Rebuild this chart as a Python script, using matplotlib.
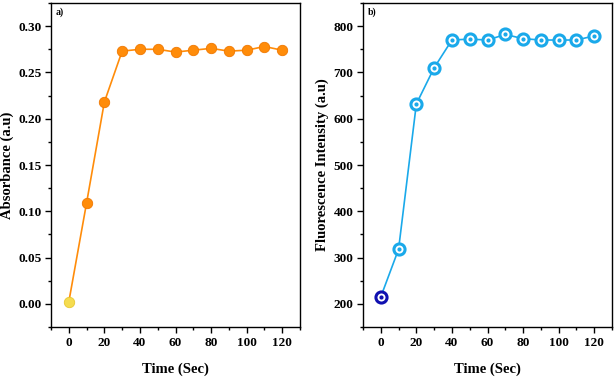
import matplotlib
matplotlib.use("Agg")
import matplotlib.pyplot as plt
from matplotlib.ticker import MultipleLocator

# -----------------------
# Data
# -----------------------
time_sec = [0, 10, 20, 30, 40, 50, 60, 70, 80, 90, 100, 110, 120]
absorbance = [0.002, 0.109, 0.218, 0.273, 0.275, 0.275, 0.272, 0.274,
              0.276, 0.273, 0.274, 0.278, 0.274]
fluorescence = [215, 318, 632, 710, 770, 772, 770, 782, 773, 770, 770, 770, 779]

plt.rcParams['font.family'] = ['Liberation Serif', 'DejaVu Serif']
plt.rcParams['font.weight'] = 'bold'
plt.rcParams['axes.labelweight'] = 'bold'

ORANGE = '#ff8c0a'
BLUE = '#1aa9ea'

fig = plt.figure(figsize=(6.14, 3.77), dpi=100)
ax1 = fig.add_axes([51 / 614, 1 - 327 / 377, 249 / 614, 324 / 377])
ax2 = fig.add_axes([363 / 614, 1 - 327 / 377, 249 / 614, 324 / 377])


def style_axis(ax):
    ax.tick_params(direction='out', length=4, width=1, labelsize=9.5, pad=3)
    ax.tick_params(which='minor', direction='out', length=2.5, width=1)
    ax.xaxis.set_major_locator(MultipleLocator(20))
    ax.xaxis.set_minor_locator(MultipleLocator(10))
    ax.set_xlim(-10, 130)
    for s in ax.spines.values():
        s.set_linewidth(1.0)
    ax.set_xlabel("Time (Sec)", fontsize=10.5, labelpad=10)


# -----------------------
# Panel a) Absorbance
# -----------------------
ax1.plot(time_sec, absorbance, color=ORANGE, lw=1.2, zorder=2)
ax1.plot(time_sec[1:], absorbance[1:], 'o', color=ORANGE, ms=7.5,
         mec='#f07800', mew=0.6, zorder=3)
ax1.plot(time_sec[:1], absorbance[:1], 'o', color='#f5dc50', ms=7.5,
         mec='#e8c830', mew=0.6, zorder=3)
ax1.set_ylim(-0.025, 0.325)
ax1.yaxis.set_major_locator(MultipleLocator(0.05))
ax1.yaxis.set_minor_locator(MultipleLocator(0.025))
ax1.yaxis.set_major_formatter(plt.FormatStrFormatter('%.2f'))
ax1.set_ylabel("Absorbance (a.u)", fontsize=10.5, labelpad=3)
style_axis(ax1)
ax1.text(0.02, 0.985, "a)", transform=ax1.transAxes, fontsize=7,
         fontweight='bold', va='top', ha='left')

# -----------------------
# Panel b) Fluorescence
# -----------------------
ax2.plot(time_sec, fluorescence, color=BLUE, lw=1.2, zorder=2)
ax2.plot(time_sec[1:], fluorescence[1:], 'o', mfc='white', mec=BLUE,
         ms=8, mew=2.2, zorder=3)
ax2.plot(time_sec[:1], fluorescence[:1], 'o', mfc='white', mec='#1010b0',
         ms=8, mew=2.2, zorder=3)
ax2.plot(time_sec[1:], fluorescence[1:], 'o', color=BLUE, ms=2, zorder=4)
ax2.plot(time_sec[:1], fluorescence[:1], 'o', color='#1010b0', ms=2, zorder=4)
ax2.set_ylim(150, 850)
ax2.yaxis.set_major_locator(MultipleLocator(100))
ax2.yaxis.set_minor_locator(MultipleLocator(50))
ax2.set_ylabel("Fluorescence Intensity (a.u)", fontsize=10.5, labelpad=3)
style_axis(ax2)
ax2.text(0.02, 0.985, "b)", transform=ax2.transAxes, fontsize=7,
         fontweight='bold', va='top', ha='left')

fig.savefig("out.png", dpi=100)
